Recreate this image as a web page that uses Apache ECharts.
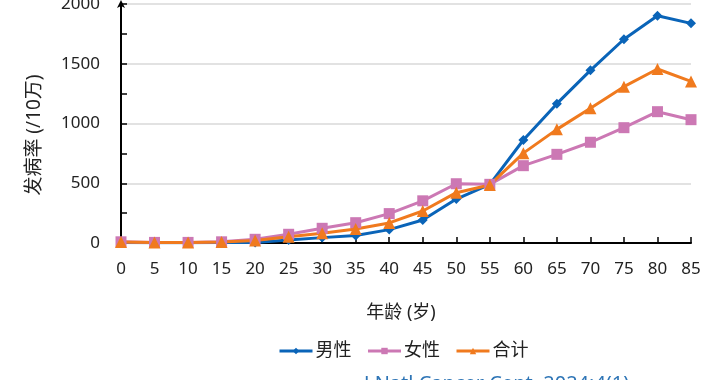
<!DOCTYPE html>
<html>
<head>
<meta charset="utf-8">
<script src="https://cdn.jsdelivr.net/npm/echarts@6/dist/echarts.min.js"></script>
<style>html,body{margin:0;padding:0;background:#fff;}#c{width:720px;height:380px;}</style>
</head>
<body>
<div id="c"></div>
<script>
const ages = ['0','5','10','15','20','25','30','35','40','45','50','55','60','65','70','75','80','85'];
const male   = [5, 3, 3, 5, 5, 25, 45, 63, 112, 192, 368, 490, 862, 1166, 1445, 1705, 1902, 1838];
const female = [10, 5, 5, 10, 31, 73, 123, 170, 246, 353, 496, 491, 647, 742, 843, 965, 1099, 1032];
const total  = [8, 4, 4, 8, 20, 52, 82, 118, 168, 268, 421, 486, 752, 951, 1127, 1308, 1456, 1352];
const yTicks = [0, 500, 1000, 1500, 2000];
const seriesNames = ['男性', '女性', '合计'];
const colors = ['#0a64b8', '#cc78b4', '#f07a1e'];

const font = '"Noto Sans", "Noto Sans CJK SC", sans-serif';
const chart = echarts.init(document.getElementById('c'));
function mk(name, data, color, symbol, size) {
  return {
    name: name, type: 'line', data: data, symbol: symbol, symbolSize: size,
    showSymbol: true, animation: false,
    lineStyle: {color: color, width: 3}, itemStyle: {color: color}
  };
}
chart.setOption({
  animation: false,
  textStyle: {fontFamily: font},
  grid: {left: 121, right: 29, top: 4, bottom: 137, containLabel: false, outerBoundsMode: 'none'},
  legend: {
    data: seriesNames, left: 273, top: 337, itemWidth: 33, itemHeight: 8, itemGap: 15,
    lineStyle: {width: 3},
    textStyle: {fontSize: 18, color: '#222', fontFamily: font, padding: [0, 0, 0, -2]}
  },
  xAxis: {
    type: 'category', data: ages, boundaryGap: false,
    axisLine: {lineStyle: {color: '#000', width: 2}},
    axisTick: {inside: true, length: 6, lineStyle: {color: '#000', width: 1.5}, alignWithLabel: true},
    axisLabel: {fontSize: 17, color: '#222', margin: 18, fontFamily: font},
    splitLine: {show: false}
  },
  yAxis: {
    type: 'value', min: yTicks[0], max: yTicks[yTicks.length - 1], interval: 500,
    axisLine: {show: true, symbol: ['none', 'arrow'], symbolSize: [6, 8], symbolOffset: [0, 4], lineStyle: {color: '#000', width: 2}},
    axisTick: {show: true, inside: true, length: 6, lineStyle: {color: '#000', width: 1.5}},
    minorTick: {show: true, splitNumber: 2, length: 6, lineStyle: {color: '#000', width: 1.5}},
    axisLabel: {fontSize: 17, color: '#222', margin: 21, fontFamily: font, formatter: function (v) { return String(v); }},
    splitLine: {show: true, lineStyle: {color: '#d9d9d9', width: 1.5}}
  },
  graphic: [
    {type: 'text', x: 35, y: 135, rotation: Math.PI / 2,
     style: {text: '发病率 (/10万)', fontSize: 19, fill: '#222', fontFamily: font, align: 'center', verticalAlign: 'middle'}},
    {type: 'text', x: 401, y: 313,
     style: {text: '年龄 (岁)', fontSize: 18, fill: '#222', fontFamily: font, align: 'center', verticalAlign: 'middle'}},
    {type: 'text', x: 364, y: 374,
     style: {text: 'J Natl Cancer Cent. 2024;4(1)', fontSize: 20, fill: '#2e75b6', fontFamily: font, align: 'left', verticalAlign: 'top'}}
  ],
  series: [
    mk(seriesNames[0], male, colors[0], 'diamond', 10),
    mk(seriesNames[1], female, colors[1], 'rect', 11),
    mk(seriesNames[2], total, colors[2], 'triangle', 12)
  ]
});
</script>
</body>
</html>
